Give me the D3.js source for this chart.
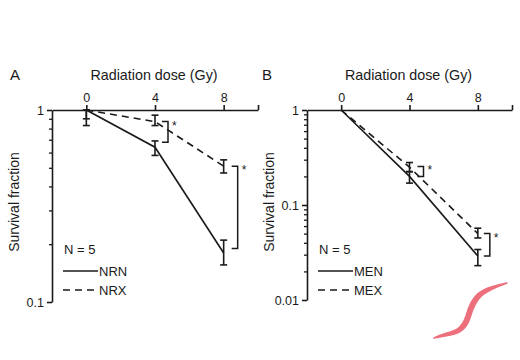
<!DOCTYPE html>
<html><head><meta charset="utf-8">
<script src="https://cdn.jsdelivr.net/npm/d3@7/dist/d3.min.js"></script>
<style>body{margin:0;background:#fff}svg{display:block;font-family:"Liberation Sans",Arial,sans-serif}</style>
</head><body><svg id="c" width="520" height="360"></svg>
<script>
const doses = [0, 4, 8];
const xTicks = [0, 4, 8, 10];
// Panel A
const nrn = [1.0, 0.64, 0.18];
const nrnErr = [[0.9, 1.0], [0.58, 0.69], [0.156, 0.21]];
const nrx = [1.0, 0.87, 0.51];
const nrxErr = [[0.83, 1.0], [0.83, 0.94], [0.47, 0.55]];
// Panel B
const men = [1.0, 0.2, 0.029];
const menErr = [[0.97, 1.0], [0.17, 0.225], [0.023, 0.034]];
const mex = [1.0, 0.25, 0.05];
const mexErr = [[0.97, 1.0], [0.224, 0.28], [0.045, 0.057]];
const yTicksA = [1, 0.1];
const yTicksB = [1, 0.1, 0.01];

const svg = d3.select("#c");
const ink = "#1a1a1a";

function panel(o) {
  const g = svg.append("g");
  const x = d3.scaleLinear().domain([-2, 10]).range(o.xr);
  const y = d3.scaleLog().domain(o.yd).range(o.yr);
  // minor ticks
  const minors = [];
  for (let e = Math.round(Math.log10(o.yd[0])); e < 0; e++)
    for (let m = 2; m <= 9; m++) minors.push(m * Math.pow(10, e));
  g.append("g").attr("transform", `translate(${o.xr[0]},0)`)
    .call(d3.axisLeft(y).tickValues(minors).tickSize(3).tickFormat(""))
    .call(s => s.select(".domain").remove())
    .call(s => s.selectAll("line").attr("stroke", ink).attr("stroke-width", 1.3));
  // major y axis
  g.append("g").attr("transform", `translate(${o.xr[0]},0)`)
    .call(d3.axisLeft(y).tickValues(o.yTicks).tickSize(5).tickSizeOuter(0).tickPadding(3)
      .tickFormat(d => d >= 1 ? "1" : String(d)))
    .call(s => s.select(".domain").attr("stroke", ink).attr("stroke-width", 1.6))
    .call(s => s.selectAll("line").attr("stroke", ink).attr("stroke-width", 1.6))
    .call(s => s.selectAll("text").attr("font-size", 12.5).attr("fill", ink).attr("font-family", null));
  // top x axis
  g.append("g").attr("transform", `translate(0,${o.yr[1]})`)
    .call(d3.axisTop(x).tickValues(xTicks).tickSize(5).tickSizeOuter(0).tickPadding(3)
      .tickFormat(d => d === 10 ? "" : d))
    .call(s => s.select(".domain").attr("stroke", ink).attr("stroke-width", 1.6))
    .call(s => s.selectAll("line").attr("stroke", ink).attr("stroke-width", 1.6))
    .call(s => s.selectAll("text").attr("font-size", 12.5).attr("fill", ink).attr("font-family", null));
  // titles
  g.append("text").attr("x", x(4) - 1).attr("y", 80).attr("text-anchor", "middle")
    .attr("font-size", 14.3).attr("fill", ink).text("Radiation dose (Gy)");
  g.append("text").attr("x", o.letterX).attr("y", 80).attr("font-size", 15).attr("fill", ink).text(o.letter);
  g.append("text").attr("transform", `translate(${o.xr[0] - 33},202) rotate(-90)`)
    .attr("text-anchor", "middle").attr("font-size", 14).attr("fill", ink).text("Survival fraction");
  // lines
  const line = d3.line().x((d, i) => x(doses[i])).y(d => y(d));
  o.series.forEach(s => {
    g.append("path").datum(s.v).attr("d", line).attr("fill", "none").attr("stroke", ink)
      .attr("stroke-width", 1.6).attr("stroke-dasharray", s.dash ? "7,5" : null);
    s.err.forEach((e, i) => {
      const cx = x(doses[i]);
      if (Math.abs(y(e[0]) - y(e[1])) < 3) return;
      g.append("line").attr("x1", cx).attr("x2", cx).attr("y1", y(e[0])).attr("y2", y(e[1]))
        .attr("stroke", ink).attr("stroke-width", 1.6);
      [e[0], e[1]].forEach(v => g.append("line").attr("x1", cx - 3.5).attr("x2", cx + 3.5)
        .attr("y1", y(v)).attr("y2", y(v)).attr("stroke", ink).attr("stroke-width", 1.6));
    });
  });
  // significance brackets
  o.brackets.forEach(b => {
    const bx = x(b.d) + b.off;
    const y1 = y(b.top), y2 = y(b.bot);
    g.append("path").attr("d", `M${bx - 6},${y1}H${bx}V${y2}H${bx - 6}`)
      .attr("fill", "none").attr("stroke", ink).attr("stroke-width", 1.5);
    g.append("text").attr("x", bx + 4).attr("y", y1 + 8).attr("font-size", 12).attr("fill", ink).text("*");
  });
  // legend
  const lx = o.xr[0] + 11;
  g.append("text").attr("x", lx + 1).attr("y", 254).attr("font-size", 13).attr("fill", ink).text("N = 5");
  o.series.forEach((s, i) => {
    const ly = 271 + i * 19;
    g.append("line").attr("x1", lx).attr("x2", lx + 35).attr("y1", ly).attr("y2", ly)
      .attr("stroke", ink).attr("stroke-width", 1.6).attr("stroke-dasharray", s.dash ? "7,5" : null);
    g.append("text").attr("x", lx + 36).attr("y", ly + 5).attr("font-size", 13).attr("fill", ink).text(s.name);
  });
}

panel({
  xr: [52, 258], yd: [0.1, 1], yr: [302, 110], yTicks: yTicksA, letter: "A", letterX: 10,
  series: [{name: "NRN", v: nrn, err: nrnErr, dash: false}, {name: "NRX", v: nrx, err: nrxErr, dash: true}],
  brackets: [{d: 4, off: 13, top: 0.87, bot: 0.68}, {d: 8, off: 14, top: 0.51, bot: 0.19}]
});
panel({
  xr: [307, 512], yd: [0.01, 1], yr: [300, 110], yTicks: yTicksB, letter: "B", letterX: 262,
  series: [{name: "MEN", v: men, err: menErr, dash: false}, {name: "MEX", v: mex, err: mexErr, dash: true}],
  brackets: [{d: 4, off: 14, top: 0.255, bot: 0.2}, {d: 8, off: 12, top: 0.05, bot: 0.029}]
});

// decorative red squiggle
svg.append("path")
  .attr("d", "M434,338 C450,330 460,334 466,316 C472,294 480,288 507,283 C482,292 476,297 470,318 C464,336 452,334 434,338 Z")
  .attr("fill", "#ec6f7b").attr("stroke", "#ec6f7b").attr("stroke-width", 1.5).attr("stroke-linejoin", "round");
</script></body></html>
